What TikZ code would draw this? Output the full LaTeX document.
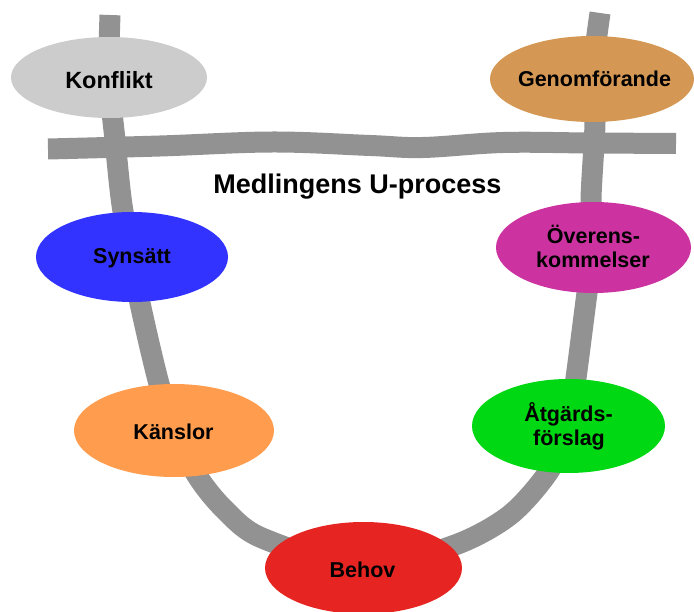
\documentclass[tikz,border=0pt]{standalone}
\usepackage{fontspec}
\setmainfont{Liberation Sans}
\usetikzlibrary{shapes.geometric,backgrounds}
\definecolor{ugray}{RGB}{146,146,146}
\definecolor{cKonf}{RGB}{204,204,204}
\definecolor{cGenom}{RGB}{212,152,84}
\definecolor{cSyn}{RGB}{51,51,255}
\definecolor{cOver}{RGB}{204,51,160}
\definecolor{cKans}{RGB}{255,156,77}
\definecolor{cAtg}{RGB}{0,216,19}
\definecolor{cBeh}{RGB}{230,37,34}
\begin{document}
\begin{tikzpicture}[x=1pt,y=-1pt,
  blob/.style={ellipse, draw=none, inner sep=0pt},
  lab/.style={anchor=base, inner sep=0pt, text=black, font=\fontsize{21.5}{25}\selectfont\bfseries},
  ttl/.style={anchor=base, inner sep=0pt, text=black, font=\fontsize{27}{32}\selectfont\bfseries},
  band/.style={draw=ugray, line width=21pt}]
\useasboundingbox (0,0) rectangle (694,612);

% ellipses
\node[blob, fill=cKonf,  minimum width=196pt, minimum height=81pt] (konf) at (109,77.5) {};
\node[blob, fill=cGenom, minimum width=204pt, minimum height=86pt] (genom) at (592,79) {};
\node[blob, fill=cSyn,   minimum width=192pt, minimum height=90pt] (syn) at (132,257) {};
\node[blob, fill=cOver,  minimum width=195pt, minimum height=91pt] (over) at (593.5,247.5) {};
\node[blob, fill=cKans,  minimum width=200pt, minimum height=93pt] (kans) at (174,430.5) {};
\node[blob, fill=cAtg,   minimum width=193pt, minimum height=94pt] (atg) at (568.5,426) {};
\node[blob, fill=cBeh,   minimum width=197pt, minimum height=92pt] (beh) at (363.5,568) {};

% labels
\node[lab, font=\fontsize{23.5}{27}\selectfont\bfseries] (tkonf) at (109,89) {Konflikt};
\node[lab] (tgenom) at (594.5,87) {Genomförande};
\node[lab] (tsyn) at (132,264) {Synsätt};
\node[lab] (tover1) at (593.5,244) {Överens-};
\node[lab] (tover2) at (593,268) {kommelser};
\node[lab] (tkans) at (173.5,439) {Känslor};
\node[lab] (tatg1) at (568.5,422) {Åtgärds-};
\node[lab] (tatg2) at (569,446) {förslag};
\node[lab] (tbeh) at (362.5,577) {Behov};
\node[ttl] (title) at (357.5,194) {Medlingens U-process};

% path coordinates
\coordinate (utl) at (110,15);
\coordinate (l1) at (115,140);
\coordinate (l2) at (122,205);
\coordinate (l3) at (140,303);
\coordinate (l4) at (158,380);
\coordinate (l5) at (198,477);
\coordinate (l6) at (225,510);
\coordinate (l7) at (262,538);
\coordinate (r7) at (455,545);
\coordinate (r6) at (510,515);
\coordinate (r5) at (549,471);
\coordinate (r4) at (576,378);
\coordinate (r3) at (587,293);
\coordinate (r2) at (591,200);
\coordinate (r1) at (595,122);
\coordinate (utr) at (600,13);

\begin{scope}[on background layer]
\draw[band] plot[smooth, tension=0.5] coordinates {(utl) (konf) (l1) (l2) (syn) (l3) (l4) (kans) (l5) (l6) (l7) (beh) (r7) (r6) (r5) (atg) (r4) (r3) (over) (r2) (r1) (genom) (utr)};
\draw[band] plot[smooth, tension=0.6] coordinates {(48,149) (160,146) (273,142) (370,145.5) (423,147.5) (503,142.5) (590,143) (676,143.5)};
\end{scope}
\end{tikzpicture}
\end{document}
